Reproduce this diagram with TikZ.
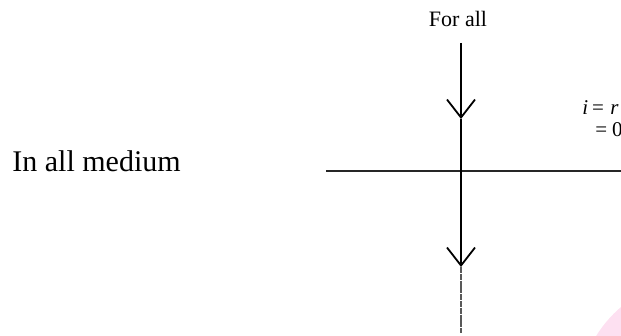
\documentclass[tikz,border=0pt]{standalone}
\usepackage{fontspec}
\setmainfont{Liberation Serif}
\usetikzlibrary{arrows.meta, positioning}

\begin{document}
\begin{tikzpicture}[x=0.5pt, y=-0.5pt,
    ray/.style={line width=0.9pt, -{Straight Barb[length=9pt, width=14pt, line width=0.9pt]}},
    tail/.style={line width=0.8pt, black!65, dash pattern=on 3pt off 0.4pt},
    surface/.style={line width=0.8pt, black!85},
    label/.style={inner sep=0pt, font=\fontsize{10.5}{12}\selectfont}]

  %% Frame
  \useasboundingbox (0,0) rectangle (621,336);
  \clip (0,0) rectangle (621,336);
  \fill[magenta!12] (700,400) circle (122);

  %% Texts
  \node[inner sep=0pt, anchor=base, font=\fontsize{11}{13}\selectfont] (forall) at (458,27) {For all};
  \node[inner sep=0pt, anchor=base west, font=\fontsize{15}{18}\selectfont] (medium) at (12,172) {In all medium};
  \node[label, anchor=base west] (eqtop) at (582,115) {\textit{i}\hspace{2pt}=\hspace{3.2pt}\textit{r}};
  \node[label, anchor=base west] (eqbot) at (595,137) {=\hspace{2.4pt}0};

  %% Points on the ray and the surface
  \coordinate (top) at (461,43);
  \coordinate (tipA) at (461,119);
  \coordinate (hit) at (461,171);
  \coordinate (tipB) at (461,267);
  \coordinate (bottom) at (461,333);
  \coordinate (left) at (326,171);
  \coordinate (right) at (621,171);

  %% Surface
  \draw[surface] (left) -- (hit) -- (right);

  %% Ray
  \draw[ray] (top) -- (tipA);
  \draw[ray] (tipA) -- (tipB);
  \draw[tail] (tipB) -- (bottom);

\end{tikzpicture}
\end{document}
